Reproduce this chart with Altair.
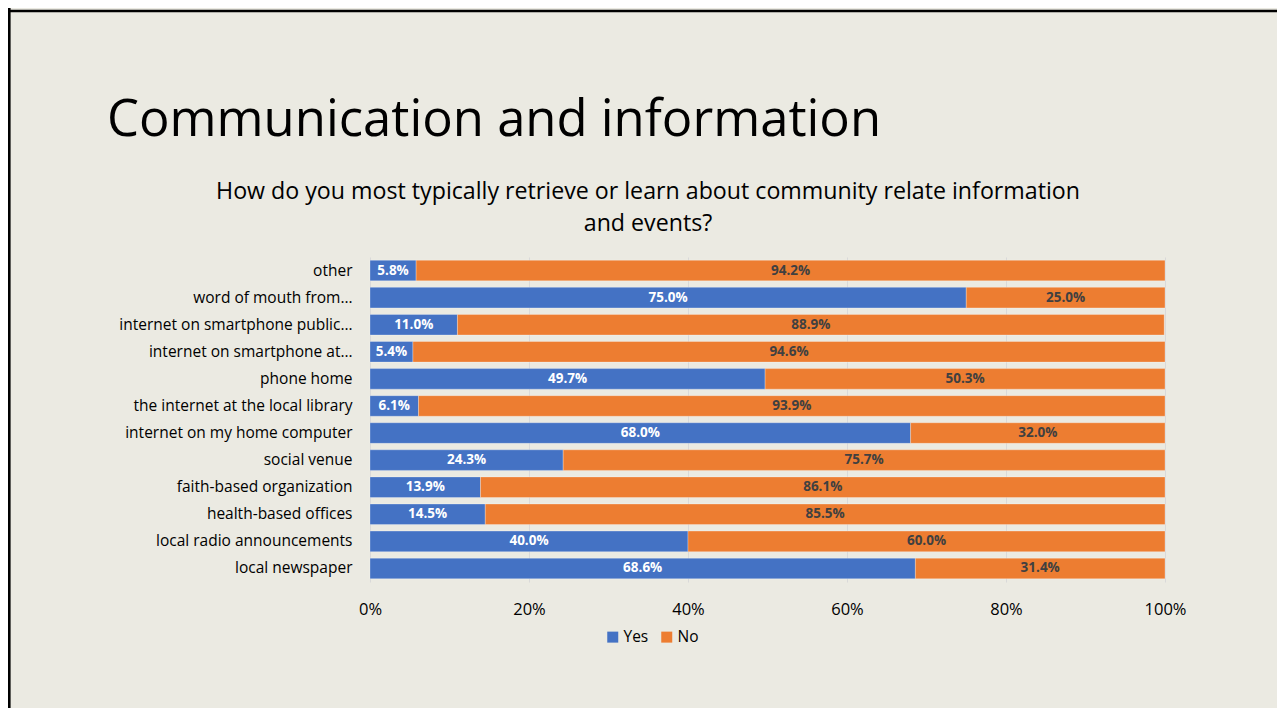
import altair as alt
import pandas as pd

categories = [
    "other",
    "word of mouth from…",
    "internet on smartphone public…",
    "internet on smartphone at…",
    "phone home",
    "the internet at the local library",
    "internet on my home computer",
    "social venue",
    "faith-based organization",
    "health-based offices",
    "local radio announcements",
    "local newspaper",
]
yes_vals = [5.8, 75.0, 11.0, 5.4, 49.7, 6.1, 68.0, 24.3, 13.9, 14.5, 40.0, 68.6]
no_vals = [94.2, 25.0, 88.9, 94.6, 50.3, 93.9, 32.0, 75.7, 86.1, 85.5, 60.0, 31.4]
series = ["Yes", "No"]
colors = ["#4472C4", "#ED7D31"]
x_ticks = [0, 20, 40, 60, 80, 100]

slide_title = "Communication and information"
chart_title = [
    "How do you most typically retrieve or learn about community relate information",
    "and events?",
]

FONT = "Open Sans"
BG = "#EBEAE2"

rows = []
for c, y, n in zip(categories, yes_vals, no_vals):
    rows.append({"cat": c, "resp": "Yes", "ord": 0, "val": y})
    rows.append({"cat": c, "resp": "No", "ord": 1, "val": n})
df = pd.DataFrame(rows)

base = alt.Chart(df).transform_stack(
    stack="val", as_=["v0", "v1"], groupby=["cat"], sort=[alt.SortField("ord")]
).transform_calculate(
    mid="(datum.v0 + datum.v1) / 2",
    lbl="format(datum.val, '.1f') + '%'",
)

y_enc = alt.Y(
    "cat:N",
    sort=categories,
    scale=alt.Scale(paddingInner=0.24, paddingOuter=0.12),
    axis=alt.Axis(
        title=None, ticks=False, domain=False, grid=False,
        labelFont=FONT, labelFontSize=15.5, labelColor="#000000",
        labelPadding=18, labelLimit=400,
    ),
)

bars = base.mark_bar(stroke="#FFFFFF", strokeWidth=0.7, strokeOpacity=0.4).encode(
    y=y_enc,
    x=alt.X(
        "v0:Q",
        scale=alt.Scale(domain=[0, 100], nice=False),
        axis=alt.Axis(
            title=None, values=x_ticks, labelExpr="datum.value + '%'",
            ticks=False, domain=False, grid=True, gridColor="#D9D9D9",
            gridWidth=1, labelFont=FONT, labelFontSize=16.5,
            labelColor="#000000", labelPadding=19, labelFlush=False,
        ),
    ),
    x2="v1:Q",
    color=alt.Color(
        "resp:N",
        scale=alt.Scale(domain=series, range=colors),
        legend=alt.Legend(
            title=None, orient="none", legendX=235, legendY=372,
            direction="horizontal", symbolType="square", symbolSize=121,
            symbolStrokeWidth=0, labelFont=FONT, labelFontSize=15.5,
            labelColor="#000000", columnPadding=10, labelOffset=3,
        ),
    ),
    order=alt.Order("ord:Q"),
)

labels = base.mark_text(fontWeight="bold", fontSize=13.5, font=FONT).encode(
    y=alt.Y("cat:N", sort=categories),
    x=alt.X("mid:Q"),
    text="lbl:N",
    color=alt.condition("datum.resp == 'Yes'", alt.value("#FFFFFF"), alt.value("#404040")),
)

one = alt.Data(values=[{}])

title_mark = alt.Chart(one).mark_text(
    text=slide_title, align="left", baseline="alphabetic",
    font=FONT, fontSize=50.8, color="#000000",
).encode(x=alt.value(-263), y=alt.value(-121))

sub1 = alt.Chart(one).mark_text(
    text=chart_title[0], align="center", baseline="middle",
    font=FONT, fontSize=23.2, color="#000000",
).encode(x=alt.value(278), y=alt.value(-65))

sub2 = alt.Chart(one).mark_text(
    text=chart_title[1], align="center", baseline="middle",
    font=FONT, fontSize=23.2, color="#000000",
).encode(x=alt.value(278), y=alt.value(-33))

left_border = alt.Chart(one).mark_rule(color="#000000", strokeWidth=2.6).encode(
    x=alt.value(-360.7), y=alt.value(-249), y2=alt.value(452)
)
top_border = alt.Chart(one).mark_rule(color="#000000", strokeWidth=2.6).encode(
    x=alt.value(-362), x2=alt.value(908), y=alt.value(-246)
)

chart = alt.layer(
    bars, labels, title_mark, sub1, sub2, left_border, top_border
).properties(
    width=795, height=325,
    autosize=alt.AutoSizeParams(type="none"),
    padding={"left": 362, "top": 249, "right": 112, "bottom": 126},
    background=BG,
).configure_view(stroke=None)

chart.save("out.html", embed_options={"renderer": "svg", "actions": False})
